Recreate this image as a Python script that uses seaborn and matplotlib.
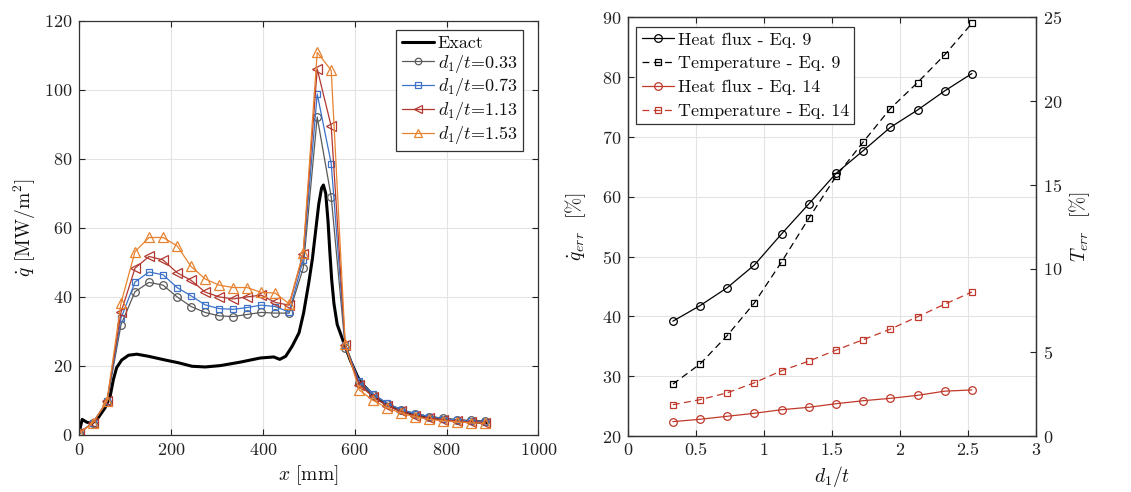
import numpy as np
import pandas as pd
import matplotlib
matplotlib.use("Agg")
import matplotlib.pyplot as plt
import seaborn as sns
from matplotlib.ticker import FormatStrFormatter, MultipleLocator

# ---------------- data ----------------
x_pts = [0, 30.5, 61, 91.5, 122, 152.5, 183, 213.5, 244, 274.5, 305, 335.5, 366, 396.5,
         427, 457.5, 488, 518.5, 549, 579.5, 610, 640.5, 671, 701.5, 732, 762.5, 793,
         823.5, 854, 884.5]

q_033 = [0.5, 3.6, 9.5, 31.9, 41.5, 44.2, 43.4, 40.0, 37.2, 35.5, 34.5, 34.3, 34.9, 35.5,
         35.3, 35.3, 48.3, 92.1, 68.9, 25.3, 15.0, 11.6, 9.0, 7.2, 6.2, 5.3, 4.8, 4.4, 4.2, 4.1]
q_073 = [0.5, 3.6, 9.7, 33.8, 44.3, 47.2, 46.4, 42.7, 40.3, 37.7, 36.6, 36.4, 36.9, 37.6,
         37.2, 35.6, 50.8, 98.8, 78.6, 26.0, 15.5, 11.8, 9.2, 7.3, 6.2, 5.3, 4.7, 4.3, 4.0, 3.8]
q_113 = [0.5, 3.5, 9.8, 35.5, 48.3, 51.7, 50.7, 47.0, 44.8, 41.4, 40.0, 39.4, 40.0, 40.5,
         38.4, 37.6, 52.4, 106.0, 89.4, 26.0, 14.5, 11.0, 8.5, 6.8, 5.6, 4.9, 4.4, 4.0, 3.8, 3.6]
q_153 = [0.5, 3.5, 9.8, 38.2, 53.1, 57.2, 57.2, 54.8, 48.8, 45.2, 43.4, 42.7, 42.7, 41.3,
         41.1, 38.0, 52.7, 110.8, 105.6, 26.3, 13.0, 10.0, 7.8, 6.3, 5.2, 4.5, 4.1, 3.8, 3.5, 3.4]

exact_x = [0, 7, 17, 28, 42, 57, 68, 75, 82, 93, 108, 126, 151, 188, 217, 246, 275, 308,
           351, 395, 424, 437, 450, 464, 479, 489, 500, 508, 515, 522, 528, 532, 537, 542,
           546, 550, 555, 562, 577, 591, 606, 614, 642, 671, 700, 729, 759, 795, 831, 890]
exact_y = [0.4, 4.5, 3.7, 3.3, 5.0, 7.9, 11.3, 16.1, 19.5, 21.7, 23.1, 23.4, 22.8, 21.7,
           20.9, 19.9, 19.7, 20.1, 21.1, 22.3, 22.6, 21.9, 22.8, 25.7, 29.6, 35.4, 44.0,
           51.0, 59.0, 67.0, 71.5, 72.4, 70.0, 62.0, 53.0, 45.0, 38.0, 32.0, 26.5, 21.5,
           17.0, 15.1, 11.2, 8.8, 7.1, 5.9, 5.2, 4.5, 4.0, 3.5]

ratio = [0.33, 0.53, 0.73, 0.93, 1.13, 1.33, 1.53, 1.73, 1.93, 2.13, 2.33, 2.53]
hf_eq9 = [39.2, 41.8, 44.8, 48.6, 53.8, 58.8, 63.9, 67.7, 71.6, 74.5, 77.7, 80.6]
temp_eq9 = [3.1, 4.3, 6.0, 7.95, 10.4, 13.0, 15.5, 17.55, 19.55, 21.1, 22.76, 24.64]
hf_eq14 = [22.4, 22.8, 23.3, 23.8, 24.4, 24.8, 25.4, 25.9, 26.3, 26.8, 27.5, 27.7]
temp_eq14 = [1.87, 2.17, 2.58, 3.18, 3.9, 4.47, 5.13, 5.75, 6.38, 7.12, 7.87, 8.6]

series_labels = [r"$d_1/t$=0.33", r"$d_1/t$=0.73", r"$d_1/t$=1.13", r"$d_1/t$=1.53"]

# ---------------- style ----------------
sns.set_theme(style="whitegrid")
plt.rcParams.update({
    "font.family": "serif",
    "font.serif": ["cmr10", "DejaVu Serif"],
    "mathtext.fontset": "cm",
    "axes.formatter.use_mathtext": True,
    "axes.unicode_minus": False,
    "axes.edgecolor": "#333333",
    "axes.linewidth": 0.9,
    "grid.color": "#e3e3e3",
    "grid.linewidth": 0.8,
    "xtick.direction": "in",
    "ytick.direction": "in",
    "xtick.color": "#222222",
    "ytick.color": "#222222",
    "xtick.major.size": 4,
    "ytick.major.size": 4,
    "xtick.major.width": 0.8,
    "ytick.major.width": 0.8,
    "xtick.labelsize": 13,
    "ytick.labelsize": 13,
    "axes.labelsize": 14,
    "axes.labelcolor": "#111111",
    "text.color": "#111111",
})

fig = plt.figure(figsize=(11.31, 4.92), dpi=100)
ax1 = fig.add_axes([0.0698, 0.1159, 0.4063, 0.8421])
ax2 = fig.add_axes([0.5553, 0.1138, 0.3605, 0.8510])

# ---------------- left panel ----------------
sns.lineplot(x=exact_x, y=exact_y, ax=ax1, color="black", linewidth=2.2,
             label="Exact", sort=False, errorbar=None)

colors = ["#5a5a5a", "#3c72c8", "#b2372e", "#e8822f"]
markers = ["o", "s", "<", "^"]
msizes = [5.5, 5.0, 6.5, 6.5]
for yv, lab, c, m, ms in zip([q_033, q_073, q_113, q_153], series_labels, colors, markers, msizes):
    sns.lineplot(x=x_pts, y=yv, ax=ax1, color=c, linewidth=0.9, marker=m,
                 markersize=ms, markerfacecolor="none", markeredgecolor=c,
                 markeredgewidth=0.9, label=lab, sort=False, errorbar=None)

ax1.set_xlim(0, 1000)
ax1.set_ylim(0, 120)
ax1.xaxis.set_major_locator(MultipleLocator(200))
ax1.yaxis.set_major_locator(MultipleLocator(20))
ax1.set_xlabel(r"$x$ [mm]")
ax1.set_ylabel(r"$\dot{q}$ [MW/m$^2$]")
ax1.tick_params(top=True, right=True, bottom=True, left=True, pad=5)
leg1 = ax1.legend(loc="upper right", bbox_to_anchor=(0.966, 0.978), borderaxespad=0,
                  fontsize=13, frameon=True, fancybox=False, framealpha=1,
                  edgecolor="#333333", handlelength=1.8, handletextpad=0.2,
                  labelspacing=0.1, borderpad=0.3, markerscale=0.85)
leg1.get_frame().set_linewidth(0.9)
for s in ax1.spines.values():
    s.set_visible(True)

# ---------------- right panel ----------------
ax3 = ax2.twinx()
sns.lineplot(x=ratio, y=hf_eq9, ax=ax2, color="black", linewidth=0.9, marker="o",
             markersize=5.5, markerfacecolor="none", markeredgecolor="black",
             markeredgewidth=0.9, label="Heat flux - Eq. 9", sort=False, errorbar=None,
             legend=False)
sns.lineplot(x=ratio, y=hf_eq14, ax=ax2, color="#c0392b", linewidth=0.9, marker="o",
             markersize=5.5, markerfacecolor="none", markeredgecolor="#c0392b",
             markeredgewidth=0.9, label="Heat flux - Eq. 14", sort=False, errorbar=None,
             legend=False)
sns.lineplot(x=ratio, y=temp_eq9, ax=ax3, color="black", linewidth=0.9, marker="s",
             markersize=3.8, markerfacecolor="none", markeredgecolor="black",
             markeredgewidth=0.9, linestyle=(0, (5.5, 3.5)), label="Temperature - Eq. 9",
             sort=False, errorbar=None, legend=False)
sns.lineplot(x=ratio, y=temp_eq14, ax=ax3, color="#c0392b", linewidth=0.9, marker="s",
             markersize=3.8, markerfacecolor="none", markeredgecolor="#c0392b",
             markeredgewidth=0.9, linestyle=(0, (5.5, 3.5)), label="Temperature - Eq. 14",
             sort=False, errorbar=None, legend=False)

ax2.set_xlim(0, 3)
ax2.set_ylim(20, 90)
ax3.set_ylim(0, 25)
ax2.xaxis.set_major_locator(MultipleLocator(0.5))
ax2.xaxis.set_major_formatter(FormatStrFormatter("%g"))
ax2.yaxis.set_major_locator(MultipleLocator(10))
ax3.yaxis.set_major_locator(MultipleLocator(5))
ax3.grid(False)
ax2.set_xlabel(r"$d_1/t$")
ax2.set_ylabel(r"$\dot{q}_{err}$  [%]", labelpad=10)
ax3.set_ylabel(r"$T_{err}$  [%]")
ax2.tick_params(top=True, bottom=True, left=True, right=False, pad=5)
ax3.tick_params(right=True, left=False, pad=5)
for s in ax2.spines.values():
    s.set_visible(True)

h2, l2 = ax2.get_legend_handles_labels()
h3, l3 = ax3.get_legend_handles_labels()
handles = [h2[0], h3[0], h2[1], h3[1]]
labels = [l2[0], l3[0], l2[1], l3[1]]
leg2 = ax3.legend(handles, labels, loc="upper left", bbox_to_anchor=(0.02, 0.978),
                  borderaxespad=0, fontsize=13, frameon=True, fancybox=False,
                  framealpha=1, edgecolor="#333333", handlelength=1.8,
                  handletextpad=0.2, labelspacing=0.45, borderpad=0.3)
leg2.get_frame().set_linewidth(0.9)

fig.savefig("out.png", dpi=100)
